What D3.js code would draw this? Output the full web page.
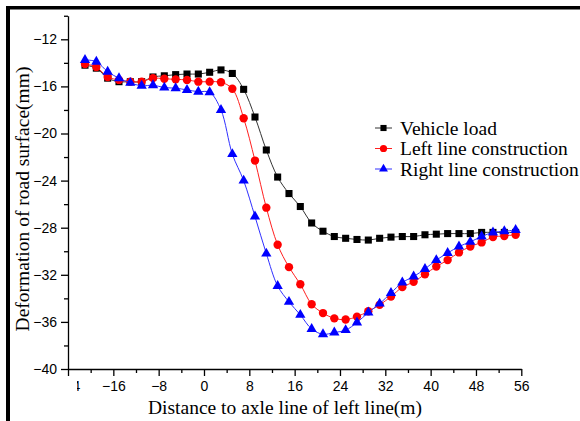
<!DOCTYPE html>
<html>
<head>
<meta charset="utf-8">
<script src="https://cdn.jsdelivr.net/npm/d3@7"></script>
<style>
  body { margin: 0; background: #fff; }
  svg { display: block; }
</style>
</head>
<body>
<svg id="chart" width="580" height="421"></svg>
<script>
// distance to axle line (m)
const distance = [-21, -19, -17, -15, -13, -11, -9, -7, -5, -3, -1, 1, 3, 5, 7, 9, 11, 13, 15, 17,
  19, 21, 23, 25, 27, 29, 31, 33, 35, 37, 39, 41, 43, 45, 47, 49, 51, 53, 55];

// deformation (mm)
const vehicleLoad = [-14.2, -14.45, -15.3, -15.6, -15.6, -15.6, -15.2, -15.1, -15.0, -14.95, -14.95,
  -14.8, -14.6, -14.9, -16.25, -18.6, -21.4, -23.7, -25.1, -26.2, -27.6, -28.3, -28.75, -28.9,
  -29.0, -29.05, -28.9, -28.8, -28.75, -28.75, -28.6, -28.55, -28.5, -28.5, -28.5, -28.4, -28.4,
  -28.4, -28.4];
const leftLine = [-14.1, -14.35, -15.2, -15.45, -15.6, -15.6, -15.3, -15.35, -15.4, -15.45, -15.6,
  -15.6, -15.65, -16.2, -18.7, -22.3, -26.3, -29.45, -31.35, -32.8, -34.5, -35.25, -35.7, -35.8,
  -35.55, -35.1, -34.55, -33.85, -33.05, -32.6, -31.95, -31.3, -30.75, -30.1, -29.6, -29.25, -28.8,
  -28.7, -28.6];
const rightLine = [-13.75, -13.9, -14.75, -15.3, -15.7, -15.95, -15.9, -16.1, -16.15, -16.3, -16.45,
  -16.5, -18.0, -21.75, -24.0, -27.05, -30.2, -32.95, -34.3, -35.4, -36.6, -37.05, -36.9, -36.7,
  -36.05, -35.2, -34.45, -33.55, -32.65, -32.15, -31.5, -30.75, -30.15, -29.6, -29.2, -28.75, -28.4,
  -28.3, -28.2];

const seriesNames = ['Vehicle load', 'Left line construction', 'Right line construction'];
const xTicks = [-24, -16, -8, 0, 8, 16, 24, 32, 40, 48, 56];
const yTicks = [-40, -36, -32, -28, -24, -20, -16, -12];

const svg = d3.select('#chart');
const serif = '"Liberation Serif", "Times New Roman", serif';
const sans = '"Liberation Sans", Arial, sans-serif';

svg.append('rect').attr('width', 580).attr('height', 421).attr('fill', '#fff');
// frame (cropped on the right and bottom)
svg.append('rect').attr('x', 6).attr('y', 6).attr('width', 574).attr('height', 3.5).attr('fill', '#000');
svg.append('rect').attr('x', 6).attr('y', 6).attr('width', 4).attr('height', 415).attr('fill', '#000');

const x = d3.scaleLinear().domain([-24, 56]).range([68, 521.3]);
const y = d3.scaleLinear().domain([-40, -10]).range([369, 15.75]);

// axes
const xAxis = svg.append('g').attr('transform', 'translate(0,369)');
xAxis.call(d3.axisBottom(x).tickValues(d3.range(-20, 56, 8)).tickSize(4).tickFormat(''));
xAxis.call(g => g.select('.domain').remove());
const xMajor = svg.append('g').attr('transform', 'translate(0,369)')
  .call(d3.axisBottom(x).tickValues(xTicks).tickSize(7).tickSizeOuter(0).tickPadding(5));
xMajor.selectAll('text').attr('font-family', sans).attr('font-size', 14).attr('fill', '#000');

// the first label is mostly hidden in the original, only the end of the "4" shows
svg.append('clipPath').attr('id', 'cut').append('rect')
  .attr('x', 8.5).attr('y', 0).attr('width', 40).attr('height', 40);
xMajor.selectAll('.tick').filter(d => d === -24).select('text').attr('clip-path', 'url(#cut)');

const yAxis = svg.append('g').attr('transform', 'translate(68,0)');
yAxis.call(d3.axisLeft(y).tickValues(d3.range(-38, -9, 4)).tickSize(4).tickFormat(''));
yAxis.call(g => g.select('.domain').remove());
const yMajor = svg.append('g').attr('transform', 'translate(68,0)')
  .call(d3.axisLeft(y).tickValues(yTicks).tickSize(7).tickSizeOuter(0).tickPadding(4));
yMajor.selectAll('text').attr('font-family', sans).attr('font-size', 14).attr('fill', '#000');

svg.selectAll('.domain, .tick line').attr('stroke', '#000').attr('stroke-width', 1.3);

// axis titles
svg.append('text')
  .attr('x', 285).attr('y', 414)
  .attr('text-anchor', 'middle')
  .attr('font-family', serif).attr('font-size', 19.5)
  .text('Distance to axle line of left line(m)');
svg.append('text')
  .attr('transform', 'translate(29,199) rotate(-90)')
  .attr('text-anchor', 'middle')
  .attr('font-family', serif).attr('font-size', 19.5)
  .text('Deformation of road surface(mm)');

const series = [
  { name: seriesNames[0], values: vehicleLoad, color: '#000', line: '#333', symbol: d3.symbolSquare, size: 50 },
  { name: seriesNames[1], values: leftLine, color: '#ff0000', line: '#ff2020', symbol: d3.symbolCircle, size: 55 },
  { name: seriesNames[2], values: rightLine, color: '#0000ff', line: '#3030ff', symbol: d3.symbolTriangle, size: 46 }
];

const line = d3.line()
  .x((d, i) => x(distance[i]))
  .y(d => y(d))
  .curve(d3.curveCatmullRom);

series.forEach(s => {
  svg.append('path')
    .attr('d', line(s.values))
    .attr('fill', 'none')
    .attr('stroke', s.line)
    .attr('stroke-width', 1);
  svg.append('g').selectAll('path')
    .data(s.values)
    .enter().append('path')
    .attr('transform', (d, i) => `translate(${x(distance[i])},${y(d)})`)
    .attr('d', d3.symbol().type(s.symbol).size(s.size))
    .attr('fill', s.color);
});

// legend
const legend = svg.append('g').attr('transform', 'translate(375,128)');
series.forEach((s, i) => {
  const row = legend.append('g').attr('transform', `translate(0,${i * 20.5})`);
  row.append('line').attr('x1', 0).attr('x2', 17).attr('stroke', s.line).attr('stroke-width', 1);
  row.append('path')
    .attr('transform', 'translate(8.5,0)')
    .attr('d', d3.symbol().type(s.symbol).size(s.size * 0.75))
    .attr('fill', s.color);
  row.append('text')
    .attr('x', 25).attr('y', 6.5)
    .attr('font-family', serif).attr('font-size', 19.5)
    .text(s.name);
});
</script>
</body>
</html>
